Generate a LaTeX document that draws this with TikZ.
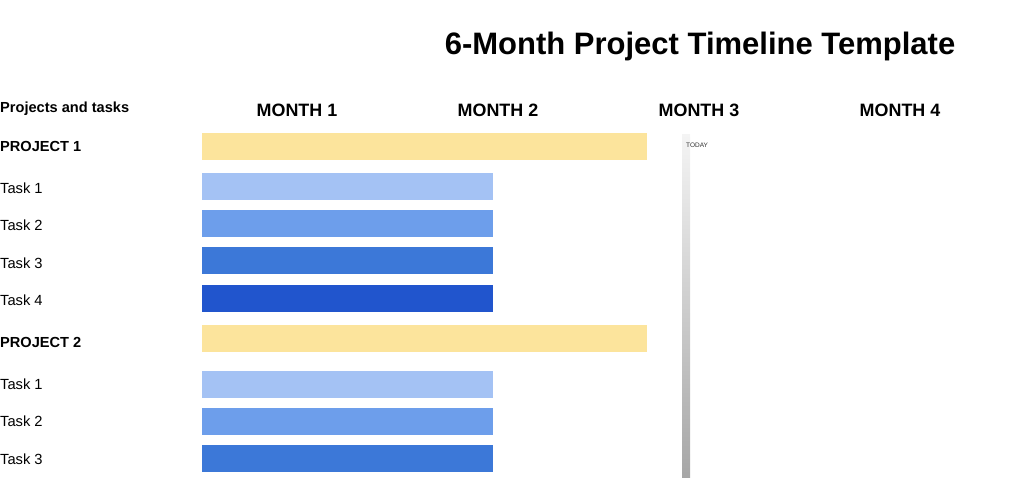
\documentclass[tikz,border=0pt]{standalone}
\usepackage{fontspec}
\setmainfont{Liberation Sans}
\usetikzlibrary{positioning}
\definecolor{projyellow}{HTML}{FCE49C}
\definecolor{taskone}{HTML}{A4C2F4}
\definecolor{tasktwo}{HTML}{6D9EEB}
\definecolor{taskthree}{HTML}{3C78D8}
\definecolor{taskfour}{HTML}{2155CD}
\definecolor{todaytop}{HTML}{F4F4F4}
\definecolor{todaybottom}{HTML}{A6A6A6}

\begin{document}
\begin{tikzpicture}[
  x=1pt, y=-1pt,
  bar/.style={anchor=north west, inner sep=0pt, minimum height=27pt},
  projbar/.style={bar, fill=projyellow, minimum width=445pt},
  taskbar/.style={bar, minimum width=291pt},
  rowlabel/.style={anchor=west, inner sep=0pt, font=\fontsize{14.7}{17}\selectfont},
  projlabel/.style={rowlabel, font=\fontsize{14.6}{17}\selectfont\bfseries},
  month/.style={inner sep=0pt, font=\fontsize{17.9}{21}\selectfont\bfseries},
  title/.style={inner sep=0pt, font=\fontsize{31}{36}\selectfont\bfseries}
]
\useasboundingbox (0,0) rectangle (1024,478);

% Title and column heads
\node[title] (title) at (700,46.5) {6-Month Project Timeline Template};
\node[projlabel] (head) at (0,109) {Projects and tasks};
\node[month] (m1) at (297,110) {MONTH 1};
\node[month] (m2) at (498,110) {MONTH 2};
\node[month] (m3) at (699,110) {MONTH 3};
\node[month] (m4) at (900,110) {MONTH 4};

% Today marker
\node[anchor=north west, inner sep=0pt, minimum width=8pt, minimum height=344pt,
      top color=todaytop, bottom color=todaybottom] (today) at (682,134) {};
\node[anchor=west, inner sep=0pt, text=black!80, font=\fontsize{6.5}{7}\selectfont]
  (todaylabel) at (686,145.5) {TODAY};

% Project 1
\node[projlabel] (p1) at (0,146) {PROJECT 1};
\node[projbar] (p1bar) at (202,133) {};
\node[rowlabel] (p1t1) at (0,188) {Task 1};
\node[taskbar, fill=taskone] (p1t1bar) at (202,173) {};
\node[rowlabel] (p1t2) at (0,225) {Task 2};
\node[taskbar, fill=tasktwo] (p1t2bar) at (202,210) {};
\node[rowlabel] (p1t3) at (0,263) {Task 3};
\node[taskbar, fill=taskthree] (p1t3bar) at (202,247) {};
\node[rowlabel] (p1t4) at (0,300) {Task 4};
\node[taskbar, fill=taskfour] (p1t4bar) at (202,285) {};

% Project 2
\node[projlabel] (p2) at (0,342) {PROJECT 2};
\node[projbar] (p2bar) at (202,325) {};
\node[rowlabel] (p2t1) at (0,384) {Task 1};
\node[taskbar, fill=taskone] (p2t1bar) at (202,371) {};
\node[rowlabel] (p2t2) at (0,421) {Task 2};
\node[taskbar, fill=tasktwo] (p2t2bar) at (202,408) {};
\node[rowlabel] (p2t3) at (0,459) {Task 3};
\node[taskbar, fill=taskthree] (p2t3bar) at (202,445) {};

\end{tikzpicture}
\end{document}
